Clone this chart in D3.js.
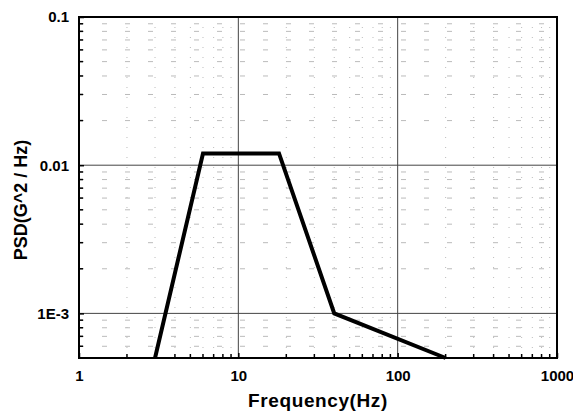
<!DOCTYPE html>
<html>
<head>
<meta charset="utf-8">
<script src="https://cdn.jsdelivr.net/npm/d3@7"></script>
<style>
  body { margin: 0; background: #fff; }
  text { font-family: Arial, "Liberation Sans", sans-serif; font-weight: bold; }
</style>
</head>
<body>
<div class="draw-section"></div>
<script>
// PSD profile breakpoints
const freqs = [3, 6, 18, 40, 200];
const psd = [0.0005, 0.012, 0.012, 0.001, 0.0005];
const xTicks = [1, 10, 100, 1000];
const xTickLabels = ['1', '10', '100', '1000'];
const yTicks = [0.001, 0.01, 0.1];
const yTickLabels = ['1E-3', '0.01', '0.1'];

const W = 573, H = 412;
const margin = { top: 17, right: 16, bottom: 54, left: 79 };
const iw = W - margin.left - margin.right;
const ih = H - margin.top - margin.bottom;

const x = d3.scaleLog().domain([1, 1000]).range([0, iw]);
const y = d3.scaleLog().domain([0.0005, 0.1]).range([ih, 0]);

const svg = d3.select('.draw-section').append('svg')
  .attr('width', W).attr('height', H);
const g = svg.append('g').attr('transform', `translate(${margin.left},${margin.top})`);

// minor positions
let xMinor = [];
for (let d = 1; d < 1000; d *= 10) for (let k = 2; k <= 9; k++) xMinor.push(d * k);
let yMinor = [];
for (let d = 0.0001; d < 0.1; d *= 10) for (let k = 2; k <= 9; k++) {
  const v = d * k;
  if (v > 0.0005 && v < 0.1) yMinor.push(v);
}

// faint dotted minor grid
g.append('g').selectAll('line').data(xMinor).join('line')
  .attr('x1', d => x(d)).attr('x2', d => x(d)).attr('y1', 0).attr('y2', ih)
  .attr('stroke', '#bbb').attr('stroke-width', 1).attr('stroke-dasharray', '1,9');
g.append('g').selectAll('line').data(yMinor).join('line')
  .attr('y1', d => y(d)).attr('y2', d => y(d)).attr('x1', 0).attr('x2', iw)
  .attr('stroke', '#bbb').attr('stroke-width', 1).attr('stroke-dasharray', '5,18');

// major grid
g.append('g').selectAll('line').data(xTicks.slice(1, -1)).join('line')
  .attr('x1', d => x(d)).attr('x2', d => x(d)).attr('y1', 0).attr('y2', ih)
  .attr('stroke', '#444').attr('stroke-width', 1);
g.append('g').selectAll('line').data(yTicks.slice(0, -1)).join('line')
  .attr('y1', d => y(d)).attr('y2', d => y(d)).attr('x1', 0).attr('x2', iw)
  .attr('stroke', '#444').attr('stroke-width', 1);

// axes with inward ticks
const xAxis = g.append('g').attr('transform', `translate(0,${ih})`)
  .call(d3.axisBottom(x).tickValues(xTicks).tickSize(-5).tickFormat((d, i) => xTickLabels[i]).tickPadding(12));
g.append('g').attr('transform', `translate(0,${ih})`)
  .selectAll('line').data(xMinor).join('line')
  .attr('x1', d => x(d)).attr('x2', d => x(d)).attr('y1', 0).attr('y2', -4)
  .attr('stroke', '#000').attr('stroke-width', 1.5);

const yAxis = g.append('g')
  .call(d3.axisLeft(y).tickValues(yTicks).tickSize(-5).tickFormat((d, i) => yTickLabels[i]).tickPadding(10));
g.append('g').selectAll('line').data(yMinor).join('line')
  .attr('y1', d => y(d)).attr('y2', d => y(d)).attr('x1', 0).attr('x2', 4)
  .attr('stroke', '#000').attr('stroke-width', 1.5);

[xAxis, yAxis].forEach(a => {
  a.select('.domain').remove();
  a.selectAll('.tick line').attr('stroke-width', 1.5);
  a.selectAll('.tick text').attr('font-size', 15).attr('fill', '#000');
});

// frame
g.append('rect').attr('width', iw).attr('height', ih)
  .attr('fill', 'none').attr('stroke', '#000').attr('stroke-width', 2);

// PSD line
const line = d3.line().x((d, i) => x(freqs[i])).y(d => y(d));
g.append('path').datum(psd)
  .attr('d', line).attr('fill', 'none')
  .attr('stroke', '#000').attr('stroke-width', 4).attr('stroke-linejoin', 'miter');

// titles
svg.append('text').attr('x', margin.left + iw / 2).attr('y', 407)
  .attr('text-anchor', 'middle').attr('font-size', 19).attr('letter-spacing', 0.6)
  .text('Frequency(Hz)');
svg.append('text').attr('transform', `translate(27,200) rotate(-90)`)
  .attr('text-anchor', 'middle').attr('font-size', 18).text('PSD(G^2 / Hz)');
</script>
</body>
</html>
